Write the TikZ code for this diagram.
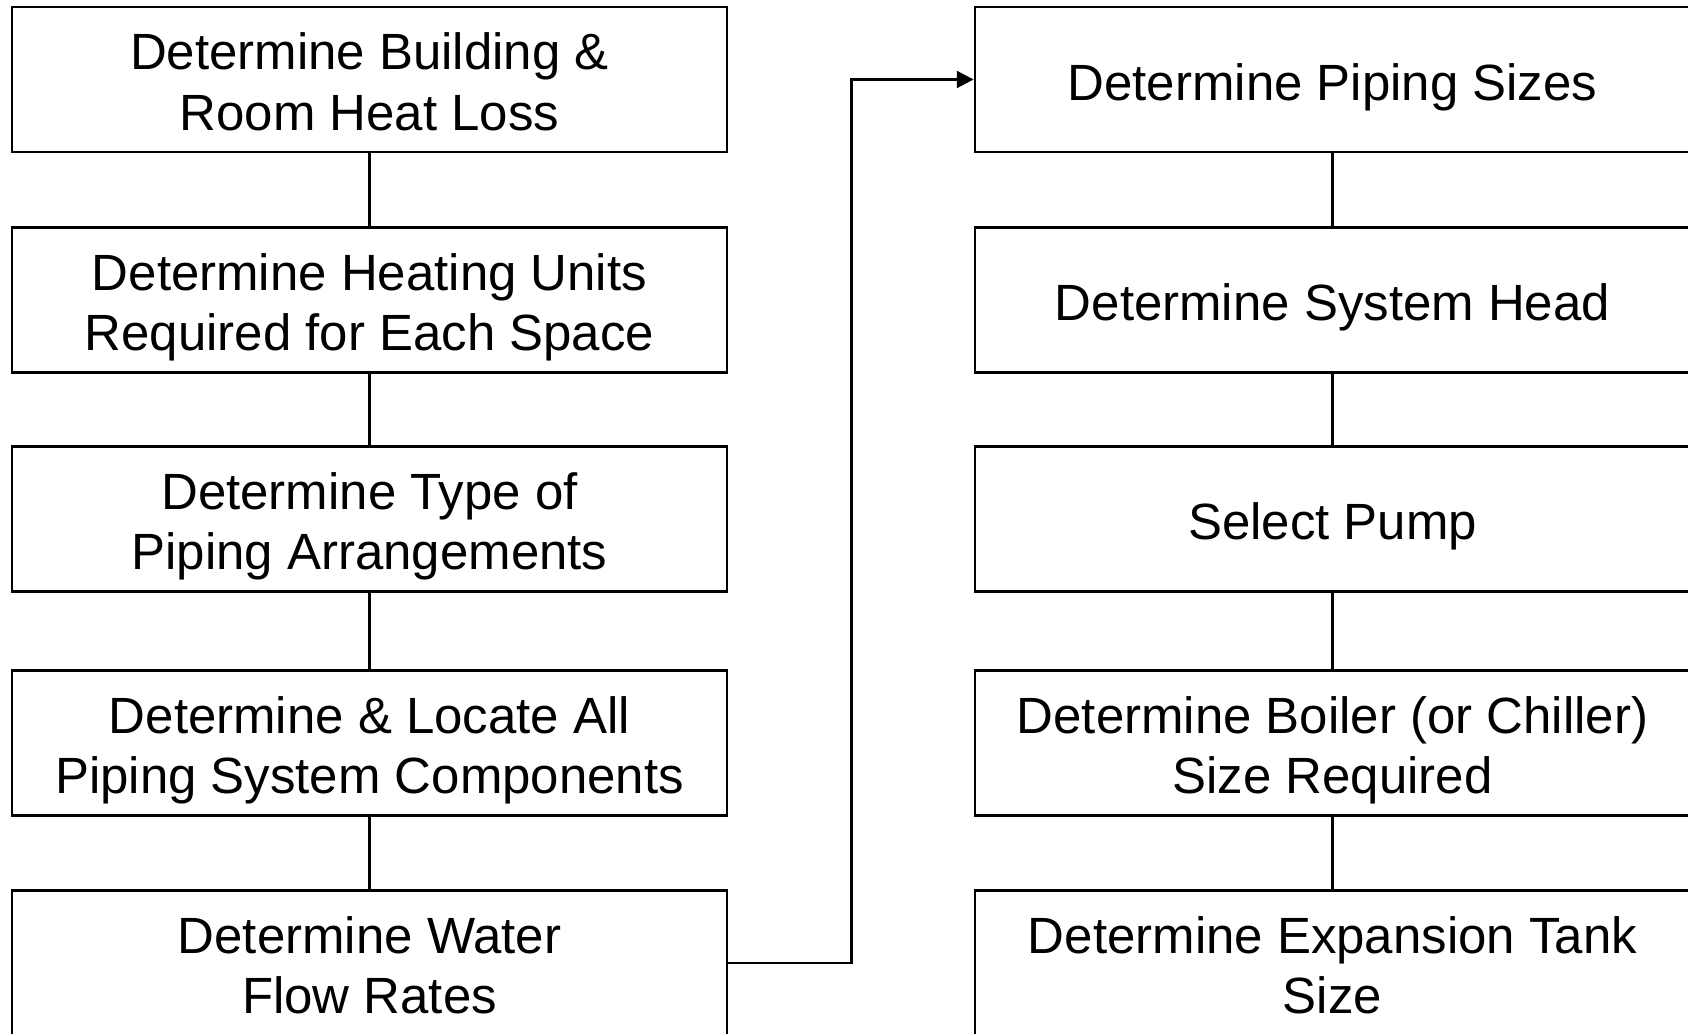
\documentclass[tikz,border=0pt]{standalone}
\usepackage{fontspec}
\setmainfont{Liberation Sans}
\usetikzlibrary{arrows.meta}
\tikzset{
	stepbox/.style={draw, line width=1.6pt, minimum width=14.3cm, minimum height=2.9cm,
		text width=14cm, align=flush center, inner sep=0pt, font=\fontsize{29}{34.6}\selectfont,
		execute at begin node={\rule{0pt}{30.4pt}},
		execute at end node={\rule[-7pt]{0pt}{7pt}}},
	link/.style={line width=1.6pt}
}
\begin{document}
\begin{tikzpicture}
		\useasboundingbox (0,0) rectangle (33.76,-20.68);
		% left column
		\node [stepbox] (heatloss) at (7.39,-1.59) {Determine Building \&\\Room Heat Loss};
		\node [stepbox] (units) at (7.39,-6.0) {Determine Heating Units\\Required for Each Space};
		\node [stepbox] (arrange) at (7.39,-10.38) {Determine Type of\\Piping Arrangements};
		\node [stepbox] (components) at (7.39,-14.86) {Determine \& Locate All\\Piping System Components};
		\node [stepbox] (flow) at (7.39,-19.26) {Determine Water\\Flow Rates};
		% right column
		\node [stepbox] (pipesize) at (26.65,-1.59) {Determine Piping Sizes};
		\node [stepbox] (head) at (26.65,-6.0) {Determine System Head};
		\node [stepbox] (pump) at (26.65,-10.38) {Select Pump};
		\node [stepbox] (boiler) at (26.65,-14.86) {Determine Boiler (or Chiller)\\Size Required};
		\node [stepbox] (tank) at (26.65,-19.26) {Determine Expansion Tank\\Size};
		\foreach \a/\b in {heatloss/units, units/arrange, arrange/components, components/flow,
			pipesize/head, head/pump, pump/boiler, boiler/tank} {
			\draw [link] (\a) -- (\b);
		}
		\draw [link, -{Triangle[length=9.5pt,width=9.5pt]}] (flow.east) -- ++(2.46,0) |- (pipesize.west);
	\end{tikzpicture}
\end{document}
